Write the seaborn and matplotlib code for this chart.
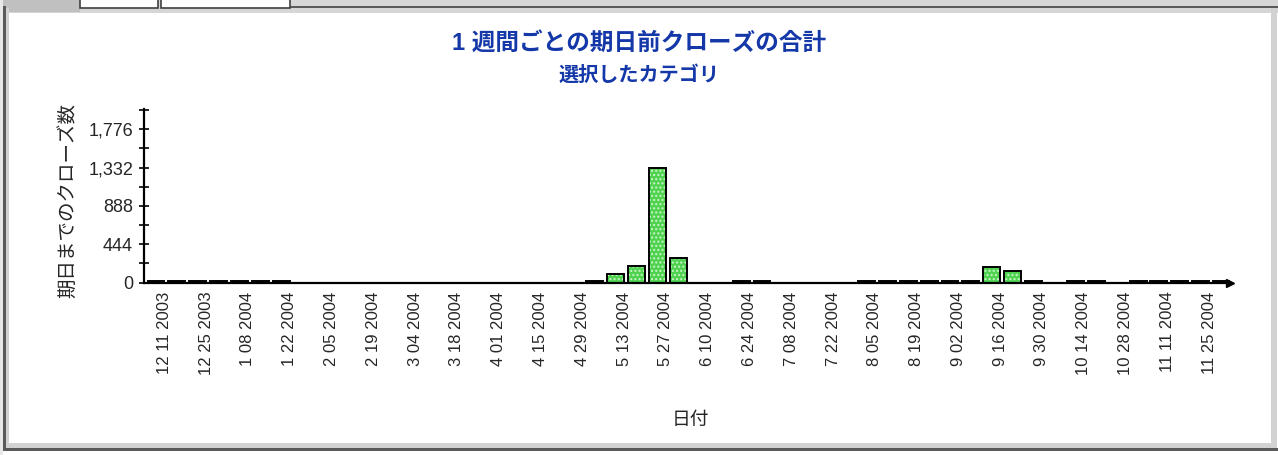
import matplotlib
matplotlib.use("Agg")
import matplotlib.pyplot as plt
from matplotlib.patches import Rectangle
import numpy as np
import pandas as pd
import seaborn as sns

# Weekly buckets (week ending dates) and the number of early closes in each
week_start = "2003-12-11"
n_weeks = 52
weeks = pd.date_range(week_start, periods=n_weeks, freq="7D")
week_labels = [f"{d.month} {d.day:02d} {d.year}" for d in weeks]

closes = [
    12, 12, 12, 12, 12, 12, 12,          # 12/11 - 1/22
    0, 0, 0, 0, 0, 0, 0, 0, 0, 0, 0, 0, 0, 0,  # 1/29 - 4/29
    12, 95, 190, 1332, 285,              # 5/06 - 6/03
    0, 0, 12, 12,                        # 6/10 - 7/01
    0, 0, 0, 0,                          # 7/08 - 7/29
    12, 12, 12, 12, 12, 12,              # 8/05 - 9/09
    175, 128,                            # 9/16 - 9/23
    12, 0, 12, 12, 0,                    # 9/30 - 10/28
    12, 12, 12, 12, 12,                  # 11/04 - 12/02
]

y_major = [0, 444, 888, 1332, 1776]
y_major_labels = ["0", "444", "888", "1,332", "1,776"]
y_minor = [222, 666, 1110, 1554, 1998]

title = "1 週間ごとの期日前クローズの合計"
subtitle = "選択したカテゴリ"
x_title = "日付"
y_title = "期日までのクローズ数"

df = pd.DataFrame({"week": week_labels, "closes": closes})

sns.set_style("white")
plt.rcParams["font.family"] = ["Liberation Sans", "Noto Sans CJK JP"]

W, H = 1278, 455
fig = plt.figure(figsize=(W / 100, H / 100), dpi=100)
fig.patch.set_facecolor("white")

# plot area in pixel terms
left_px, right_px, base_px, top_px = 143.5, 1230, 282.5, 109
ax = fig.add_axes([left_px / W, 1 - base_px / H,
                   (right_px - left_px) / W, (base_px - top_px) / H])
ax.set_facecolor("white")

bar_w = 0.81
# dotted green fill
sns.barplot(data=df, x="week", y="closes", ax=ax, width=bar_w,
            color="#4FD34F", saturation=1, hatch="....",
            edgecolor="#C9F3C9", linewidth=0, errorbar=None)
n_fill = len(ax.patches)
# black outlines on top
sns.barplot(data=df, x="week", y="closes", ax=ax, width=bar_w,
            color="white", saturation=1, errorbar=None)
for p in ax.patches[n_fill:]:
    p.set_facecolor("none")
    p.set_edgecolor("black")
    p.set_linewidth(1.4)

ax.set_xlim(-0.6, n_weeks - 0.6)
ax.set_ylim(0, 2010)

tick_pos = np.arange(n_weeks - 1) + 0.4
ax.set_xticks(tick_pos)
ax.set_xticklabels([lab if i % 2 == 0 else "" for i, lab in enumerate(week_labels[:n_weeks - 1])],
                   rotation=90, fontsize=12)
ax.set_yticks(y_major)
ax.set_yticklabels(y_major_labels, fontsize=13)
ax.set_yticks(y_minor, minor=True)

ax.tick_params(axis="x", direction="inout", length=7, width=1.2, pad=3, color="black")
ax.tick_params(axis="y", which="both", direction="inout", length=7, width=1.2, pad=4,
               color="black", left=True)
ax.tick_params(axis="y", which="minor", length=7)

for s in ["top", "right"]:
    ax.spines[s].set_visible(False)
for s in ["left", "bottom"]:
    ax.spines[s].set_color("black")
    ax.spines[s].set_linewidth(1.6)

# arrowhead at the end of the date axis
ax.plot([n_weeks - 0.6], [0], marker=">", color="black", markersize=6,
        clip_on=False)

ax.set_xlabel(x_title, fontsize=13.5, family=["Noto Sans CJK JP"])
ax.xaxis.set_label_coords((690 - left_px) / (right_px - left_px),
                          -(420 - base_px) / (base_px - top_px))
ax.set_ylabel(y_title, fontsize=14, family=["Noto Sans CJK JP"])
ax.yaxis.set_label_coords((67.5 - left_px) / (right_px - left_px), 0.47)
ax.xaxis.label.set_va("center")
ax.yaxis.label.set_va("center")

title_color = "#1438A8"
fig.text(0.5, 1 - 43 / H, title, ha="center", va="center", fontsize=17,
         fontweight="bold", color=title_color,
         family=["Liberation Sans", "Noto Sans CJK JP"])
fig.text(0.5, 1 - 74 / H, subtitle, ha="center", va="center", fontsize=14.5,
         fontweight="bold", color=title_color, family=["Noto Sans CJK JP"])


# window frame and tab strip around the chart
def px_rect(x0, y0, x1, y1, fc, ec="none", lw=0):
    fig.add_artist(Rectangle((x0 / W, 1 - y1 / H), (x1 - x0) / W, (y1 - y0) / H,
                             transform=fig.transFigure, facecolor=fc,
                             edgecolor=ec, linewidth=lw))


px_rect(0, 0, W, 13, "#d6d6d6")
px_rect(0, 0, 80, 12, "#c0c0c0")
px_rect(290, 6, W, 8, "#5a5a5a")
px_rect(80, -2, 158, 7.5, "white", "#404040", 1.2)
px_rect(161, -2, 290, 7.5, "white", "#404040", 1.2)
px_rect(0, 0, 3, H, "#e8e8e8")
px_rect(3, 6, 5.5, 451, "#5a5a5a")
px_rect(5.5, 8, 9, 447, "#d2d2d2")
px_rect(1271, 8, 1277, 447, "#d2d2d2")
px_rect(5.5, 443, 1277, 448, "#d2d2d2")
px_rect(3, 448, W, 450.5, "#5a5a5a")

fig.savefig("out.png", dpi=100)
